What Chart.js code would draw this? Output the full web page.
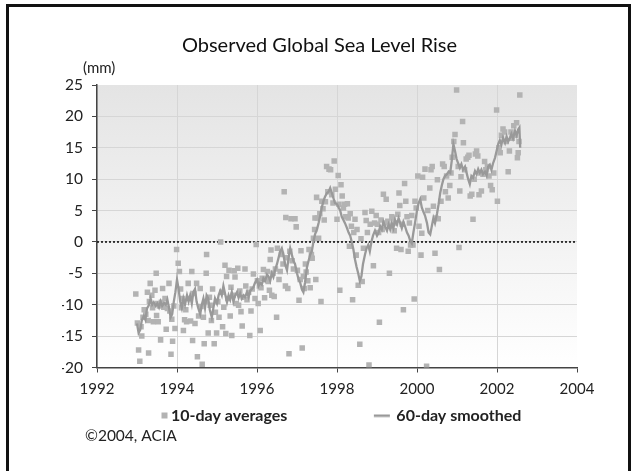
<!DOCTYPE html>
<html>
<head>
<meta charset="utf-8">
<script src="https://cdn.jsdelivr.net/npm/chart.js@4"></script>
<style>
  body { margin: 0; background: #fff; }
  #wrap { position: relative; width: 639px; height: 471px; overflow: hidden; }
  #frame { position: absolute; left: 6px; top: 4px; width: 619px; height: 480px; border: 3px solid #111; pointer-events: none; }
</style>
</head>
<body>
<div id="wrap">
  <canvas id="seaLevel" width="639" height="471"></canvas>
  <div id="frame"></div>
</div>
<script>
// sea level chart

var chartTitle = 'Observed Global Sea Level Rise';
var unitLabel = '(mm)';
var creditLabel = '\u00a92004, ACIA';
var seriesNames = ['10-day averages', '60-day smoothed'];
var xTicks = [1992, 1994, 1996, 1998, 2000, 2002, 2004];
var yTicks = [-20, -15, -10, -5, 0, 5, 10, 15, 20, 25];

// 10-day averages
var tenDayYears = [
  1992.97, 1993.01, 1993.04, 1993.07, 1993.10, 1993.12, 1993.15, 1993.18, 1993.22, 1993.26,
  1993.28, 1993.29, 1993.31, 1993.33, 1993.37, 1993.39, 1993.41, 1993.45, 1993.48, 1993.49,
  1993.52, 1993.53, 1993.56, 1993.59, 1993.61, 1993.64, 1993.67, 1993.70, 1993.73, 1993.76,
  1993.80, 1993.82, 1993.85, 1993.87, 1993.89, 1993.92, 1993.95, 1993.99, 1994.03, 1994.06,
  1994.09, 1994.11, 1994.14, 1994.16, 1994.19, 1994.22, 1994.24, 1994.28, 1994.31, 1994.34,
  1994.37, 1994.39, 1994.42, 1994.45, 1994.49, 1994.51, 1994.54, 1994.58, 1994.60, 1994.63,
  1994.66, 1994.68, 1994.71, 1994.73, 1994.74, 1994.78, 1994.81, 1994.83, 1994.86, 1994.89,
  1994.93, 1994.96, 1994.99, 1995.02, 1995.05, 1995.09, 1995.12, 1995.14, 1995.17, 1995.20,
  1995.22, 1995.24, 1995.27, 1995.30, 1995.33, 1995.35, 1995.37, 1995.40, 1995.43, 1995.45,
  1995.48, 1995.52, 1995.54, 1995.57, 1995.60, 1995.63, 1995.66, 1995.70, 1995.72, 1995.75,
  1995.79, 1995.82, 1995.85, 1995.88, 1995.91, 1995.95, 1995.98, 1996.01, 1996.03, 1996.06,
  1996.08, 1996.10, 1996.13, 1996.16, 1996.19, 1996.22, 1996.26, 1996.28, 1996.31, 1996.33,
  1996.35, 1996.37, 1996.40, 1996.43, 1996.46, 1996.49, 1996.51, 1996.55, 1996.58, 1996.61,
  1996.65, 1996.68, 1996.71, 1996.72, 1996.75, 1996.77, 1996.80, 1996.82, 1996.85, 1996.88,
  1996.91, 1996.95, 1996.98, 1997.01, 1997.05, 1997.08, 1997.10, 1997.13, 1997.16, 1997.18,
  1997.21, 1997.23, 1997.27, 1997.30, 1997.33, 1997.36, 1997.38, 1997.41, 1997.44, 1997.45,
  1997.47, 1997.49, 1997.51, 1997.54, 1997.57, 1997.60, 1997.62, 1997.65, 1997.68, 1997.71,
  1997.74, 1997.77, 1997.80, 1997.84, 1997.87, 1997.90, 1997.93, 1997.96, 1998.00, 1998.03,
  1998.05, 1998.07, 1998.10, 1998.13, 1998.16, 1998.19, 1998.22, 1998.26, 1998.28, 1998.31,
  1998.33, 1998.36, 1998.39, 1998.42, 1998.45, 1998.48, 1998.50, 1998.53, 1998.57, 1998.60,
  1998.63, 1998.66, 1998.70, 1998.73, 1998.76, 1998.80, 1998.83, 1998.87, 1998.91, 1998.94,
  1998.98, 1999.01, 1999.04, 1999.06, 1999.10, 1999.13, 1999.16, 1999.20, 1999.23, 1999.27,
  1999.31, 1999.34, 1999.37, 1999.40, 1999.43, 1999.46, 1999.49, 1999.52, 1999.55, 1999.57,
  1999.60, 1999.63, 1999.66, 1999.69, 1999.72, 1999.75, 1999.78, 1999.81, 1999.84, 1999.87,
  1999.90, 1999.93, 1999.95, 1999.98, 2000.02, 2000.05, 2000.10, 2000.12, 2000.14, 2000.17,
  2000.20, 2000.24, 2000.27, 2000.32, 2000.35, 2000.38, 2000.41, 2000.45, 2000.47, 2000.51,
  2000.53, 2000.56, 2000.60, 2000.64, 2000.68, 2000.71, 2000.74, 2000.78, 2000.82, 2000.85,
  2000.88, 2000.92, 2000.95, 2000.99, 2001.03, 2001.05, 2001.07, 2001.10, 2001.14, 2001.16,
  2001.19, 2001.23, 2001.27, 2001.30, 2001.33, 2001.37, 2001.40, 2001.43, 2001.46, 2001.49,
  2001.52, 2001.55, 2001.58, 2001.61, 2001.65, 2001.69, 2001.72, 2001.76, 2001.80, 2001.84,
  2001.88, 2001.92, 2001.99, 2002.01, 2002.05, 2002.08, 2002.11, 2002.15, 2002.19, 2002.23,
  2002.28, 2002.31, 2002.35, 2002.38, 2002.42, 2002.46, 2002.49, 2002.51, 2002.53, 2002.55,
  2002.57
];
var tenDayValues = [
  -8.3, -12.9, -17.2, -19.0, -13.5, -15.0, -12.0, -10.8, -11.5, -8.0,
  -12.5, -17.7, -9.5, -6.6, -8.5, -10.5, -12.7, -7.7, -5.0, -11.7,
  -9.8, -12.7, -10.2, -15.6, -9.6, -7.4, -10.4, -9.0, -13.9, -10.6,
  -6.6, -11.0, -17.9, -12.3, -15.8, -10.2, -13.8, -1.2, -3.4, -4.7,
  -7.5, -10.5, -9.0, -14.1, -12.4, -10.8, -12.7, -6.6, -9.0, -12.6,
  -4.7, -15.7, -8.2, -13.0, -6.6, -18.3, -11.8, -7.4, -10.3, -19.5,
  -12.0, -16.2, -9.5, -5.0, -2.0, -14.5, -8.8, -10.1, -12.5, -7.5,
  -16.2, -11.2, -14.5, -9.5, -12.0, 0.0, -8.0, -13.5, -10.4, -3.7,
  -14.6, -5.5, -9.0, -4.5, -11.8, -7.2, -14.9, -8.5, -4.6, -5.6,
  -9.8, -4.2, -10.1, -7.8, -11.1, -13.4, -8.8, -4.3, -7.0, -9.2,
  -8.0, -14.9, -11.0, -7.5, -5.1, -9.0, -0.4, -6.2, -9.8, -7.0,
  -14.1, -7.3, -5.8, -4.4, -8.9, -6.0, -4.7, -6.3, -7.7, -2.8,
  -1.3, -8.5, -5.0, -8.7, -4.3, -12.0, -1.0, -6.0, -4.7, -2.0,
  -3.5, 8.0, -7.0, 3.9, -2.5, -7.4, -17.8, -1.5, 3.7, -3.0,
  -4.3, 3.7, 2.4, -4.5, -9.3, -6.0, -1.4, -16.9, -5.5, -7.4,
  -3.5, -4.8, -6.2, -1.2, -7.3, -2.0, -2.6, 0.6, 2.0, 3.8,
  -6.0, 7.1, 3.8, 0.6, 4.5, -9.5, 6.5, 5.3, 3.5, 6.4,
  12.0, 8.0, 11.6, 11.5, 7.5, 6.2, 12.9, 8.4, 3.6, 10.6,
  6.0, -7.7, 9.1, 7.3, 5.4, 6.0, 4.0, 6.1, 3.8, -0.7,
  4.5, 2.5, -9.2, 1.5, 3.6, -2.1, 2.0, -6.9, -16.3, 0.5,
  -6.3, -1.0, 4.7, 3.4, 1.5, -19.6, 2.8, 4.9, -3.8, 3.0,
  4.2, 2.8, 1.5, -12.8, 3.5, 2.0, 7.6, 3.0, 6.8, 3.3,
  -5.0, 2.5, 4.0, 3.8, 1.8, 3.0, -1.0, 4.4, 7.8, 5.8,
  -1.2, 2.8, -10.8, 9.3, 6.5, 4.0, -1.5, 3.0, -0.5, 4.2,
  -0.5, -9.1, 6.5, 5.4, 10.5, 2.5, -2.1, 1.4, 10.3, 7.0,
  11.6, -19.8, 5.0, 8.6, 11.5, 12.0, 5.7, -1.8, 3.8, 9.9,
  3.7, -4.4, 6.5, 12.4, 12.0, 8.0, 10.5, 7.0, 9.0, 11.0,
  13.5, 16.0, 17.1, 24.2, 12.0, -0.9, 8.1, 10.4, 19.2, 15.8,
  11.5, 13.2, 13.5, 13.8, 7.3, 7.6, 3.6, 10.0, 14.0, 14.5,
  13.7, 7.5, 11.0, 8.1, 10.8, 12.8, 11.5, 12.0, 10.5, 9.0,
  8.3, 11.0, 21.0, 6.5, 15.0, 14.2, 17.0, 18.0, 17.5, 16.0,
  11.2, 14.5, 17.5, 16.5, 18.5, 17.0, 19.0, 13.4, 14.2, 16.0,
  23.4
];

// 60-day smoothed
var smoothYears = [
  1993.00, 1993.04, 1993.08, 1993.12, 1993.17, 1993.21, 1993.25, 1993.30, 1993.34, 1993.38,
  1993.42, 1993.47, 1993.51, 1993.55, 1993.59, 1993.63, 1993.68, 1993.72, 1993.76, 1993.80,
  1993.84, 1993.88, 1993.92, 1993.96, 1994.00, 1994.04, 1994.08, 1994.12, 1994.16, 1994.20,
  1994.25, 1994.29, 1994.33, 1994.37, 1994.41, 1994.45, 1994.49, 1994.53, 1994.58, 1994.62,
  1994.66, 1994.70, 1994.74, 1994.78, 1994.82, 1994.87, 1994.91, 1994.95, 1995.00, 1995.04,
  1995.08, 1995.12, 1995.16, 1995.20, 1995.25, 1995.29, 1995.33, 1995.37, 1995.41, 1995.45,
  1995.50, 1995.54, 1995.58, 1995.62, 1995.66, 1995.70, 1995.75, 1995.79, 1995.83, 1995.87,
  1995.91, 1995.95, 1996.00, 1996.04, 1996.08, 1996.12, 1996.16, 1996.20, 1996.25, 1996.29,
  1996.33, 1996.37, 1996.41, 1996.45, 1996.50, 1996.54, 1996.58, 1996.62, 1996.66, 1996.70,
  1996.75, 1996.79, 1996.83, 1996.87, 1996.91, 1996.95, 1997.00, 1997.04, 1997.08, 1997.12,
  1997.16, 1997.20, 1997.25, 1997.29, 1997.33, 1997.37, 1997.41, 1997.45, 1997.50, 1997.54,
  1997.58, 1997.62, 1997.66, 1997.70, 1997.75, 1997.79, 1997.83, 1997.87, 1997.91, 1997.95,
  1998.00, 1998.04, 1998.08, 1998.12, 1998.16, 1998.20, 1998.25, 1998.29, 1998.33, 1998.37,
  1998.41, 1998.45, 1998.49, 1998.53, 1998.57, 1998.61, 1998.65, 1998.70, 1998.74, 1998.78,
  1998.82, 1998.86, 1998.90, 1998.95, 1999.00, 1999.04, 1999.08, 1999.12, 1999.16, 1999.20,
  1999.25, 1999.29, 1999.33, 1999.37, 1999.41, 1999.45, 1999.50, 1999.54, 1999.58, 1999.62,
  1999.66, 1999.70, 1999.75, 1999.79, 1999.83, 1999.87, 1999.91, 1999.95, 2000.00, 2000.04,
  2000.08, 2000.12, 2000.16, 2000.20, 2000.25, 2000.29, 2000.33, 2000.37, 2000.41, 2000.45,
  2000.50, 2000.54, 2000.58, 2000.62, 2000.66, 2000.70, 2000.75, 2000.79, 2000.83, 2000.87,
  2000.91, 2000.95, 2000.99, 2001.03, 2001.07, 2001.11, 2001.15, 2001.20, 2001.24, 2001.28,
  2001.32, 2001.36, 2001.40, 2001.45, 2001.49, 2001.53, 2001.57, 2001.61, 2001.65, 2001.70,
  2001.74, 2001.78, 2001.82, 2001.86, 2001.90, 2001.95, 2001.99, 2002.03, 2002.07, 2002.11,
  2002.15, 2002.20, 2002.24, 2002.28, 2002.32, 2002.36, 2002.40, 2002.45, 2002.49, 2002.53,
  2002.56, 2002.58
];
var smoothValues = [
  -13.0, -14.5, -14.0, -12.5, -11.8, -12.4, -10.6, -10.0, -9.0, -10.0,
  -9.6, -10.2, -9.8, -10.4, -9.5, -10.2, -9.7, -10.0, -9.2, -10.5,
  -12.0, -11.5, -9.5, -8.0, -6.0, -7.5, -9.5, -10.5, -9.0, -10.0,
  -8.5, -9.5, -8.5, -9.8, -8.0, -7.5, -9.5, -10.5, -11.5, -10.0,
  -9.0, -10.5, -8.5, -9.0, -10.8, -12.0, -10.5, -9.0, -9.8, -8.5,
  -7.8, -8.5, -7.0, -8.2, -9.6, -8.5, -9.2, -8.0, -9.5, -8.6,
  -8.0, -8.9, -8.2, -9.0, -8.5, -8.8, -8.0, -8.8, -7.8, -7.5,
  -7.2, -6.5, -6.0, -7.0, -6.5, -6.8, -5.8, -6.2, -5.2, -5.5,
  -6.2, -5.0, -5.6, -4.5, -3.5, -2.5, -1.5, -1.0, -2.0, -3.5,
  -4.5, -2.5, -1.0, -2.0, -3.0, -3.5, -5.0, -6.0, -6.5, -7.5,
  -8.0, -6.5, -4.0, -3.0, -2.0, -1.5, 0.0, 1.2, 2.0, 3.0,
  4.2, 5.5, 6.5, 7.2, 7.8, 8.0, 8.6, 7.8, 7.0, 6.2,
  6.0, 5.5, 5.0, 4.0, 3.5, 3.0, 2.2, 1.5, 1.0, 0.0,
  -1.2, -2.8, -4.0, -5.0, -6.2, -5.5, -3.5, -2.0, -1.0, -0.5,
  -1.5, 0.0, 1.0, 1.8, 1.0, 1.5, 2.5, 2.0, 3.2, 2.5,
  1.8, 2.8, 2.0, 3.0, 2.2, 3.5, 2.8, 3.8, 3.0, 2.2,
  3.2, 2.5, 1.5, 1.0, 0.2, -0.2, 1.5, 3.0, 5.0, 6.2,
  6.8, 5.5, 4.8, 4.2, 3.0, 1.5, 1.2, 2.5, 3.8, 3.0,
  4.5, 6.0, 7.8, 9.0, 10.0, 10.5, 10.8, 11.2, 11.0, 13.0,
  15.6, 14.5, 13.2, 12.5, 11.8, 12.4, 11.5, 12.0, 11.0, 10.0,
  9.2, 10.5, 10.2, 11.3, 10.8, 11.6, 11.0, 11.5, 10.8, 11.2,
  10.6, 12.0, 12.3, 11.5, 12.5, 13.4, 14.5, 15.6, 16.2, 15.5,
  16.6, 15.8, 16.8, 16.0, 16.5, 17.2, 16.5, 17.7, 17.0, 17.9,
  18.2, 15.0
];

var dotColor = '#b3b3b3';
var lineColor = '#999999';

function points(xs, ys) {
  var out = [];
  for (var i = 0; i < Math.min(xs.length, ys.length); i++) out.push({x: xs[i], y: ys[i]});
  return out;
}

// small canvases used as legend markers
function marker(w, h, paint) {
  var c = document.createElement('canvas');
  c.width = w; c.height = h;
  paint(c.getContext('2d'));
  return c;
}
var squareMark = marker(100, 8, function (g) { g.fillStyle = dotColor; g.fillRect(93, 1, 6, 6); });
var lineMark = marker(100, 8, function (g) { g.fillStyle = lineColor; g.fillRect(80, 3, 16, 2.5); });

var plotExtras = {
  id: 'plotExtras',
  beforeDraw: function (chart) {
    var ctx = chart.ctx, a = chart.chartArea;
    var grad = ctx.createLinearGradient(0, a.top, 0, a.bottom);
    grad.addColorStop(0, '#e4e4e4');
    grad.addColorStop(1, '#ffffff');
    ctx.save();
    ctx.fillStyle = grad;
    ctx.fillRect(a.left, a.top, a.right - a.left, a.bottom - a.top);
    ctx.fillStyle = '#222';
    ctx.textBaseline = 'middle';
    ctx.font = '15px Lato';
    ctx.fillText(unitLabel, 83, 68);
    ctx.font = '15.5px Lato';
    ctx.fillText(creditLabel, 85, 436);
    ctx.restore();
  }
};

new Chart('seaLevel', {
  type: 'scatter',
  data: {
    datasets: [{
      label: seriesNames[0],
      data: points(tenDayYears, tenDayValues),
      pointStyle: 'rect',
      pointRadius: 3.9,
      borderWidth: 0,
      backgroundColor: dotColor,
      order: 1
    }, {
      label: seriesNames[1],
      data: points(smoothYears, smoothValues),
      showLine: true,
      borderColor: lineColor,
      borderWidth: 2.3,
      pointRadius: 0,
      order: 0
    }, {
      label: 'zero',
      data: [{x: xTicks[0], y: 0}, {x: xTicks[xTicks.length - 1], y: 0}],
      showLine: true,
      borderColor: '#111',
      borderWidth: 1.6,
      borderDash: [2, 2],
      pointRadius: 0,
      order: 2
    }]
  },
  options: {
    responsive: false,
    animation: false,
    devicePixelRatio: 1,
    layout: { padding: { left: 62, right: 62, top: 0, bottom: 37.5 } },
    font: { family: 'Lato' },
    plugins: {
      tooltip: { enabled: false },
      title: {
        display: true,
        text: chartTitle,
        color: '#111',
        font: { family: 'Lato', size: 20, weight: 'normal' },
        padding: { top: 34, bottom: 27 }
      },
      legend: {
        position: 'bottom',
        align: 'start',
        labels: {
          color: '#222',
          font: { family: 'Lato', size: 16, weight: 'bold' },
          usePointStyle: true,
          pointStyleWidth: 89,
          padding: 12,
          generateLabels: function (chart) {
            var items = Chart.defaults.plugins.legend.labels.generateLabels(chart);
            return items
              .filter(function (it) { return it.datasetIndex < 2; })
              .sort(function (p, q) { return p.datasetIndex - q.datasetIndex; })
              .map(function (it) {
                it.pointStyle = it.datasetIndex === 0 ? squareMark : lineMark;
                return it;
              });
          }
        }
      }
    },
    scales: {
      x: {
        type: 'linear',
        min: xTicks[0],
        max: xTicks[xTicks.length - 1],
        afterFit: function (s) { s.height = 28; },
        afterBuildTicks: function (s) { s.ticks = xTicks.map(function (v) { return {value: v}; }); },
        ticks: {
          color: '#222',
          font: { family: 'Lato', size: 15 },
          padding: 8,
          callback: function (v) { return String(v); }
        },
        grid: {
          color: function (c) { return c.tick && c.tick.value === 2004 ? 'rgba(0,0,0,0)' : '#d6d6d6'; },
          tickColor: '#444',
          tickLength: 5
        },
        border: { color: '#444', width: 1.5 }
      },
      y: {
        min: yTicks[0],
        max: yTicks[yTicks.length - 1],
        afterFit: function (s) { s.width = 35; },
        afterBuildTicks: function (s) { s.ticks = yTicks.map(function (v) { return {value: v}; }); },
        ticks: {
          color: '#222',
          font: { family: 'Lato', size: 15.5 },
          padding: 9,
          callback: function (v) { return String(v); }
        },
        grid: {
          color: function (c) { return c.tick && c.tick.value === 25 ? 'rgba(0,0,0,0)' : '#d6d6d6'; },
          tickColor: '#444',
          tickLength: 5
        },
        border: { color: '#444', width: 1.5 }
      }
    }
  },
  plugins: [plotExtras]
});
</script>
</body>
</html>
